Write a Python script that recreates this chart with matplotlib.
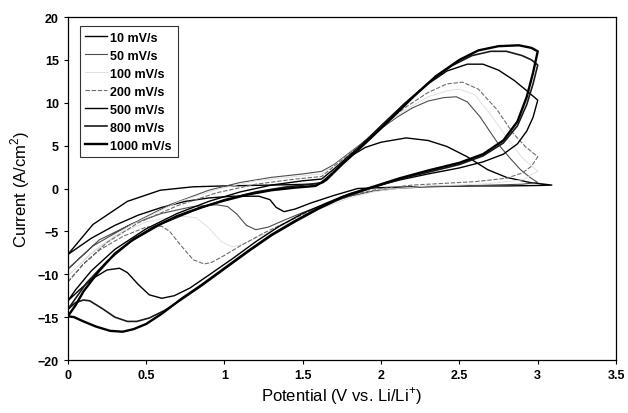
## Cyclic voltammograms at different scan rates
import numpy as np
import matplotlib
matplotlib.use('Agg')
import matplotlib.pyplot as plt

plt.rcParams['font.family'] = ['Liberation Sans', 'DejaVu Sans']
plt.rcParams['mathtext.fontset'] = 'custom'
plt.rcParams['mathtext.rm'] = 'Liberation Sans'
plt.rcParams['axes.unicode_minus'] = True

rates = ['10 mV/s', '50 mV/s', '100 mV/s', '200 mV/s', '500 mV/s', '800 mV/s', '1000 mV/s']

# each loop: anodic sweep 0 -> 3 V, then cathodic back to 0 V  (V, I)
loop_10 = [(0, -7.7), (0.16, -4.2), (0.38, -1.5), (0.59, -0.2), (0.8, 0.2), (1.0, 0.3), (1.3, 0.4),
           (1.55, 0.5), (1.61, 0.6), (1.7, 2.0), (1.8, 3.7), (1.9, 4.8), (2.0, 5.4), (2.16, 5.9),
           (2.3, 5.6), (2.42, 4.9), (2.55, 3.7), (2.68, 2.2), (2.8, 1.3), (2.95, 0.7), (3.09, 0.4),
           (3.0, 0.35), (2.8, 0.3), (2.6, 0.3), (2.4, 0.25), (2.2, 0.2), (2.0, 0.1), (1.85, 0.0),
           (1.7, -0.8), (1.55, -1.7), (1.45, -2.4), (1.38, -2.7), (1.33, -2.2), (1.29, -1.3),
           (1.22, -0.9), (1.05, -0.9), (0.9, -1.1), (0.75, -1.5), (0.6, -2.2), (0.45, -3.1),
           (0.3, -4.3), (0.15, -5.8), (0.0, -7.7)]

loop_50 = [(0, -9.4), (0.16, -6.7), (0.38, -4.4), (0.65, -1.9), (0.9, -0.2), (1.1, 0.7), (1.3, 1.3),
           (1.5, 1.7), (1.62, 2.0), (1.7, 2.8), (1.8, 4.2), (1.9, 5.6), (2.0, 7.0), (2.1, 8.3),
           (2.2, 9.4), (2.3, 10.2), (2.4, 10.6), (2.48, 10.7), (2.55, 10.1), (2.63, 8.4), (2.7, 6.5),
           (2.76, 4.9), (2.83, 3.4), (2.89, 2.2), (2.95, 1.3), (3.0, 0.7),
           (2.9, 0.5), (2.7, 0.4), (2.5, 0.3), (2.3, 0.2), (2.1, 0.0), (1.95, -0.3), (1.8, -0.9),
           (1.65, -1.8), (1.5, -2.8), (1.38, -3.7), (1.28, -4.5), (1.2, -4.8), (1.14, -4.3),
           (1.08, -3.0), (1.02, -2.1), (0.95, -1.9), (0.8, -2.1), (0.6, -2.9), (0.4, -4.2),
           (0.2, -6.0), (0.0, -9.4)]

loop_100 = [(0, -10.2), (0.15, -7.6), (0.4, -4.3), (0.7, -1.6), (0.95, -0.1), (1.2, 0.9), (1.45, 1.4),
            (1.62, 1.7), (1.7, 2.7), (1.85, 4.8), (2.0, 7.1), (2.15, 9.1), (2.3, 10.7), (2.42, 11.4),
            (2.5, 11.6), (2.6, 10.9), (2.7, 8.6), (2.8, 6.0), (2.9, 3.6), (3.0, 2.0),
            (2.9, 1.0), (2.7, 0.6), (2.5, 0.4), (2.3, 0.3), (2.1, 0.0), (1.95, -0.4), (1.8, -1.1),
            (1.65, -2.1), (1.5, -3.2), (1.35, -4.5), (1.2, -5.8), (1.1, -6.6), (1.05, -6.8),
            (0.98, -6.2), (0.9, -4.6), (0.82, -3.4), (0.7, -3.2), (0.5, -3.9), (0.3, -5.5),
            (0.15, -7.5), (0.0, -10.2)]

loop_200 = [(0, -10.9), (0.1, -8.8), (0.25, -6.3), (0.45, -4.0), (0.7, -2.0), (0.95, -0.5), (1.2, 0.5),
            (1.45, 1.1), (1.62, 1.4), (1.7, 2.6), (1.85, 4.8), (2.0, 7.2), (2.15, 9.4), (2.3, 11.2),
            (2.42, 12.2), (2.52, 12.4), (2.62, 11.6), (2.74, 9.2), (2.84, 6.5), (2.92, 4.9), (3.0, 3.7),
            (2.96, 2.6), (2.9, 1.8), (2.8, 1.2), (2.6, 0.8), (2.4, 0.6), (2.2, 0.4), (2.0, 0.0),
            (1.85, -0.6), (1.7, -1.5), (1.55, -2.6), (1.4, -3.9), (1.25, -5.2), (1.1, -6.7),
            (1.0, -7.8), (0.92, -8.6), (0.87, -8.8), (0.8, -8.3), (0.72, -6.6), (0.65, -5.0),
            (0.6, -4.4), (0.5, -4.5), (0.35, -5.6), (0.2, -7.2), (0.1, -8.8), (0.0, -10.9)]

loop_500 = [(0, -13.1), (0.05, -11.8), (0.15, -9.6), (0.3, -7.1), (0.5, -4.7), (0.7, -2.9), (0.9, -1.5),
            (1.1, -0.4), (1.3, 0.4), (1.5, 0.9), (1.62, 1.1), (1.7, 2.3), (1.85, 4.7), (2.0, 7.3),
            (2.15, 9.9), (2.3, 12.2), (2.42, 13.7), (2.55, 14.5), (2.65, 14.5), (2.75, 13.8),
            (2.85, 12.6), (2.93, 11.4), (3.0, 10.3),
            (2.97, 8.3), (2.93, 6.7), (2.87, 5.2), (2.78, 4.0), (2.65, 3.1), (2.5, 2.4), (2.3, 1.7),
            (2.12, 1.0), (1.95, 0.2), (1.8, -0.6), (1.65, -1.7), (1.5, -2.9), (1.35, -4.4),
            (1.2, -6.2), (1.05, -8.2), (0.9, -10.1), (0.78, -11.6), (0.68, -12.5), (0.6, -12.8),
            (0.52, -12.4), (0.45, -11.2), (0.38, -9.8), (0.33, -9.3), (0.25, -9.5), (0.15, -10.6),
            (0.07, -11.9), (0.0, -13.1)]

loop_800 = [(0, -14.1), (0.05, -12.8), (0.12, -11.0), (0.25, -8.5), (0.4, -6.2), (0.6, -4.1), (0.8, -2.6),
            (1.0, -1.3), (1.2, -0.4), (1.4, 0.2), (1.55, 0.5), (1.63, 0.7), (1.72, 2.4), (1.85, 4.6),
            (2.0, 7.3), (2.15, 9.9), (2.3, 12.3), (2.45, 14.3), (2.58, 15.5), (2.7, 16.0), (2.8, 16.0),
            (2.9, 15.5), (2.96, 15.0), (3.0, 14.4),
            (2.97, 12.2), (2.93, 9.8), (2.87, 7.3), (2.78, 5.3), (2.65, 3.8), (2.5, 2.8), (2.3, 1.9),
            (2.12, 1.1), (2.0, 0.4), (1.88, -0.3), (1.75, -1.1), (1.6, -2.4), (1.45, -3.9), (1.3, -5.5),
            (1.15, -7.4), (1.0, -9.4), (0.85, -11.4), (0.73, -12.9), (0.62, -14.2), (0.52, -15.1),
            (0.44, -15.5), (0.38, -15.5), (0.3, -15.0), (0.22, -14.0), (0.14, -13.1), (0.1, -13.0),
            (0.05, -13.3), (0.0, -14.1)]

loop_1000 = [(0, -14.9), (0.05, -13.6), (0.1, -12.0), (0.2, -9.6), (0.3, -7.6), (0.42, -5.9), (0.55, -4.5),
             (0.7, -3.2), (0.85, -2.2), (1.0, -1.4), (1.15, -0.7), (1.3, -0.2), (1.45, 0.1), (1.58, 0.3),
             (1.65, 1.0), (1.75, 2.8), (1.9, 5.3), (2.05, 7.9), (2.2, 10.6), (2.35, 13.1), (2.5, 15.0),
             (2.62, 16.1), (2.75, 16.6), (2.88, 16.7), (2.96, 16.4), (3.0, 16.0),
             (2.97, 13.5), (2.93, 10.7), (2.87, 7.8), (2.78, 5.6), (2.65, 4.0), (2.5, 3.0), (2.3, 2.1),
             (2.12, 1.2), (2.0, 0.5), (1.88, -0.2), (1.75, -1.0), (1.6, -2.3), (1.45, -3.8), (1.3, -5.4),
             (1.15, -7.3), (1.0, -9.3), (0.85, -11.3), (0.73, -12.8), (0.6, -14.6), (0.5, -15.8),
             (0.42, -16.4), (0.35, -16.7), (0.27, -16.6), (0.18, -16.1), (0.1, -15.5), (0.04, -15.0),
             (0.0, -14.9)]

loops = [loop_10, loop_50, loop_100, loop_200, loop_500, loop_800, loop_1000]
colors = ['black', '#4d4d4d', '#dcdcdc', '#6e6e6e', 'black', '#1a1a1a', 'black']
widths = [1.0, 0.8, 0.6, 0.8, 1.0, 1.2, 1.7]
styles = ['-', '-', '-', (0, (4, 1.5)), '-', '-', '-']

fig = plt.figure(figsize=(6.28, 4.14), dpi=100)
ax = fig.add_axes([0.108, 0.128, 0.873, 0.8285])

for pts, lab, c, w, s in zip(loops, rates, colors, widths, styles):
    arr = np.array(pts)
    ax.plot(arr[:, 0], arr[:, 1], color=c, lw=w, ls=s, label=lab)

ax.set_xlim(0, 3.5)
ax.set_ylim(-20, 20)
ax.set_xticks([0, 0.5, 1, 1.5, 2, 2.5, 3, 3.5])
ax.set_xticklabels(['0', '0.5', '1', '1.5', '2', '2.5', '3', '3.5'])
ax.set_yticks(range(-20, 21, 5))
ax.tick_params(direction='out', length=3, width=0.8, labelsize=9)
for t in ax.get_xticklabels() + ax.get_yticklabels():
    t.set_fontweight('bold')
for sp in ax.spines.values():
    sp.set_linewidth(0.9)

ax.set_xlabel(r'Potential (V vs. Li/Li$^{+}$)', fontsize=12, labelpad=2)
ax.set_ylabel(r'Current (A/cm$^{2}$)', fontsize=12, labelpad=4)

leg = ax.legend(loc='upper left', bbox_to_anchor=(0.015, 0.985), fontsize=9, frameon=True,
                fancybox=False, edgecolor='black', handlelength=1.7, handletextpad=0.3,
                borderpad=0.45, labelspacing=0.48, borderaxespad=0.3)
leg.get_frame().set_linewidth(0.8)
for t in leg.get_texts():
    t.set_fontweight('bold')

fig.savefig('out.png', dpi=100)
